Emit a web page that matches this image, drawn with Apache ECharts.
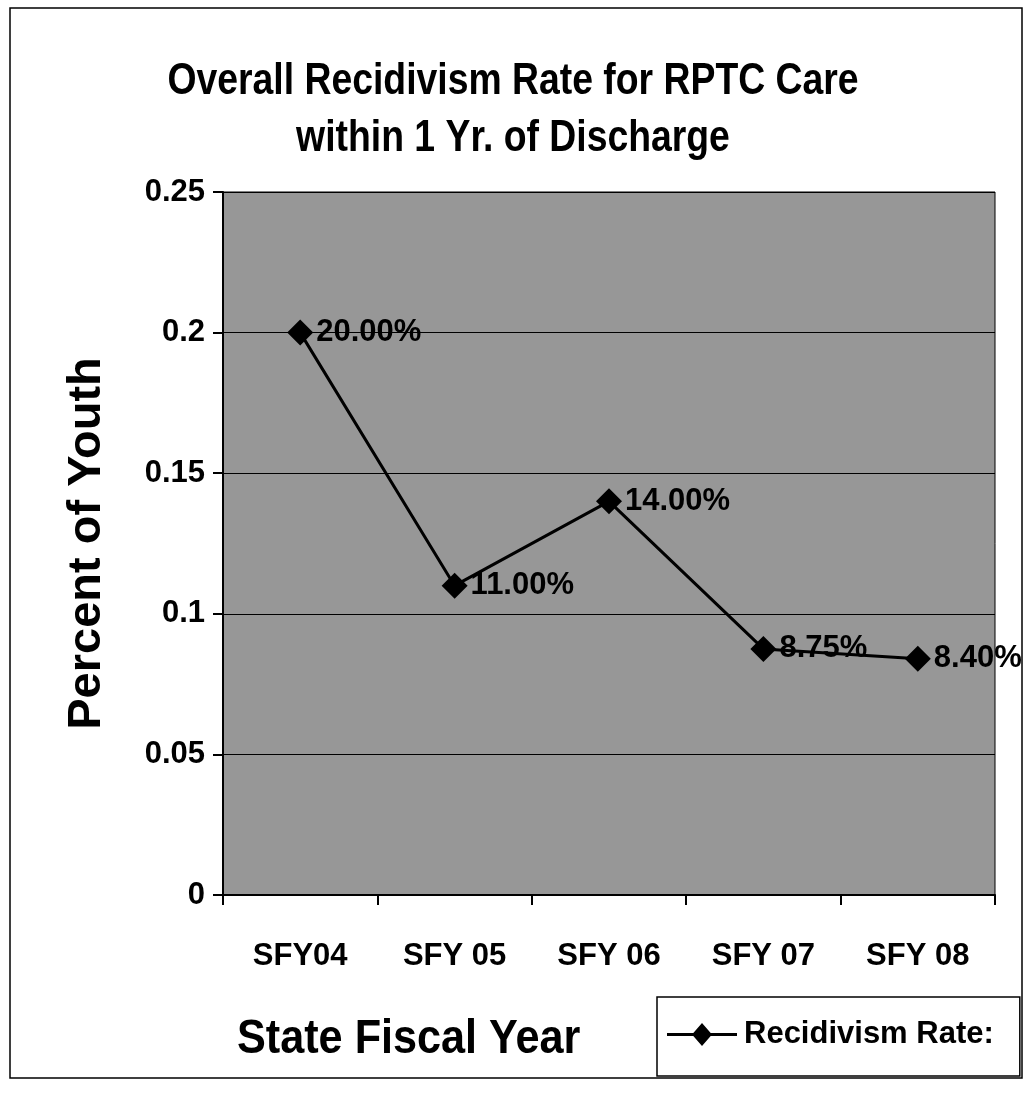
<!DOCTYPE html>
<html><head><meta charset="utf-8">
<script src="https://cdn.jsdelivr.net/npm/echarts@6/dist/echarts.min.js"></script>
<style>html,body{margin:0;padding:0;background:#fff}#c{width:1026px;height:1097px}</style>
</head><body><div id="c"></div>
<script>
const categories = ['SFY04', 'SFY 05', 'SFY 06', 'SFY 07', 'SFY 08'];
const rates = [0.20, 0.11, 0.14, 0.0875, 0.084];
const rateLabels = ['20.00%', '11.00%', '14.00%', '8.75%', '8.40%'];
const seriesName = 'Recidivism Rate:';
const titleLines = ['Overall Recidivism Rate for RPTC Care', 'within 1 Yr. of Discharge'];
const xTitle = 'State Fiscal Year';
const yTitle = 'Percent of Youth';

const FONT = "'Liberation Sans Narrow','Arial Narrow','Liberation Sans',Arial,sans-serif";
const chart = echarts.init(document.getElementById('c'));
chart.setOption({
  backgroundColor: '#fff',
  animation: false,
  grid: {left: 223, right: 31, top: 192, bottom: 202, show: true, backgroundColor: '#979797', borderColor: '#000', borderWidth: 1},
  xAxis: {
    type: 'category', data: categories, boundaryGap: true,
    axisLine: {lineStyle: {color: '#000', width: 2}},
    axisTick: {show: true, length: 10, lineStyle: {color: '#000', width: 2}},
    axisLabel: {margin: 46, fontFamily: FONT, fontWeight: 'bold', fontSize: 31, color: '#000'}
  },
  yAxis: {
    type: 'value', min: 0, max: 0.25, interval: 0.05,
    name: yTitle, nameLocation: 'middle', nameRotate: 90, nameGap: 112,
    nameTextStyle: {fontFamily: FONT, fontWeight: 'bold', fontSize: 47, color: '#000'},
    axisLine: {show: true, lineStyle: {color: '#000', width: 2}},
    axisTick: {show: true, length: 10, lineStyle: {color: '#000', width: 2}},
    splitLine: {show: true, lineStyle: {color: '#000', width: 1}},
    axisLabel: {margin: 18, fontFamily: FONT, fontWeight: 'bold', fontSize: 31, color: '#000'}
  },
  legend: {
    data: [{name: seriesName, icon: 'path://M0,10 L28,10 L28,13 L0,13 Z M35,0 L45,11.5 L35,23 L25,11.5 Z M42,10 L70,10 L70,13 L42,13 Z'}],
    left: 657, top: 997,
    itemWidth: 70, itemHeight: 23, itemGap: 4,
    padding: [22, 26, 26, 10],
    borderColor: '#000', borderWidth: 1.5,
    backgroundColor: '#fff',
    textStyle: {fontFamily: FONT, fontWeight: 'bold', fontSize: 31, color: '#000', padding: [0, 0, 0, 2]}
  },
  graphic: [
    {type: 'rect', shape: {x: 10, y: 8, width: 1012, height: 1070}, style: {fill: 'none', stroke: '#000', lineWidth: 1.5}, silent: true, z: -1},
    {type: 'text', x: 513, y: 82, scaleX: 0.83, style: {text: titleLines[0], font: 'bold 45px ' + FONT, fill: '#000', textAlign: 'center', textVerticalAlign: 'middle'}},
    {type: 'text', x: 513, y: 139, scaleX: 0.83, style: {text: titleLines[1], font: 'bold 45px ' + FONT, fill: '#000', textAlign: 'center', textVerticalAlign: 'middle'}},
    {type: 'text', x: 237, y: 1040, scaleX: 0.9, style: {text: xTitle, font: 'bold 48px ' + FONT, fill: '#000', textAlign: 'left', textVerticalAlign: 'middle'}}
  ],
  series: [{
    name: seriesName, type: 'line', data: rates,
    symbol: 'diamond', symbolSize: 26,
    lineStyle: {color: '#000', width: 3},
    itemStyle: {color: '#000'},
    label: {
      show: true, position: 'right', distance: 3,
      formatter: p => rateLabels[p.dataIndex],
      fontFamily: FONT, fontWeight: 'bold', fontSize: 31, color: '#000'
    }
  }]
});
</script></body></html>
